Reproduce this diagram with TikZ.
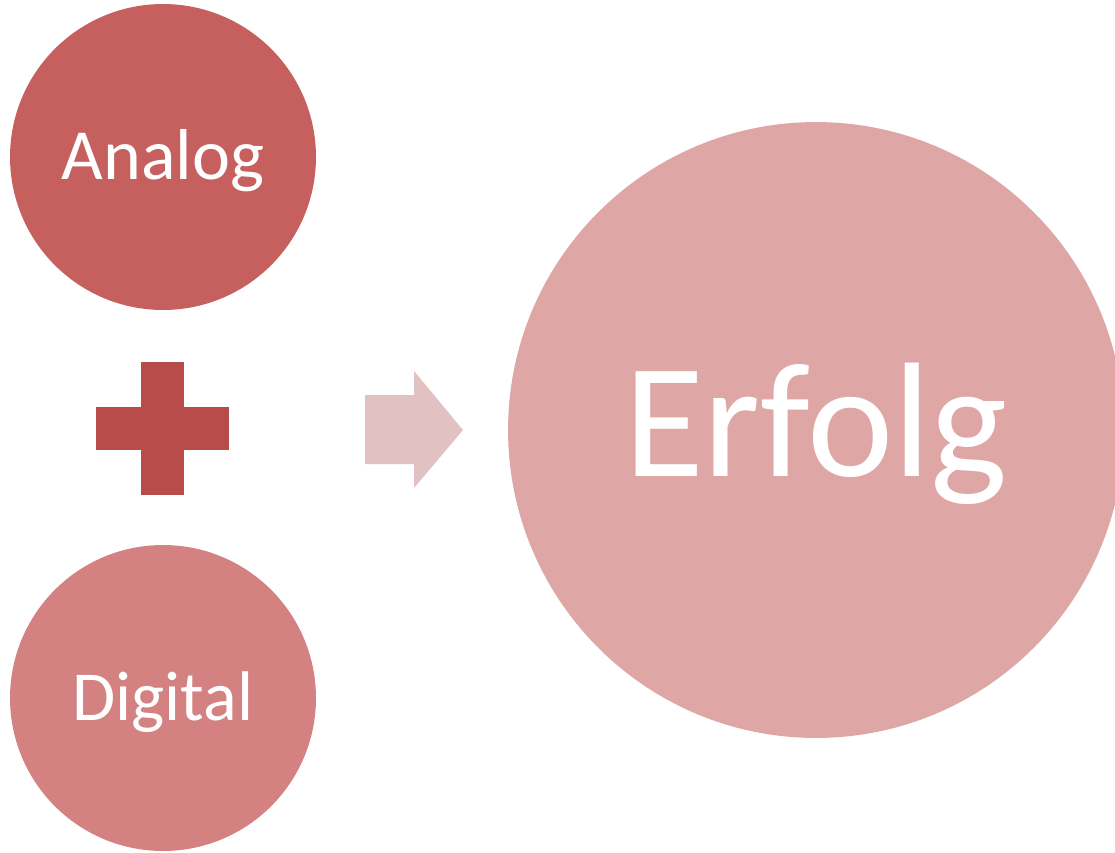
\documentclass[tikz,border=0pt]{standalone}
\usepackage{fontspec}
\setmainfont{Carlito}
\definecolor{analogred}{HTML}{C5605E}
\definecolor{digitalred}{HTML}{D38181}
\definecolor{erfolgred}{HTML}{DFA6A6}
\definecolor{plusred}{HTML}{B84C4A}
\definecolor{arrowred}{HTML}{E2C1C3}
\tikzset{bubble/.style={circle,inner sep=0pt,text=white}}
\newcommand{\lowered}[1]{\raisebox{-2.3pt}[\height][\depth]{#1}}
\begin{document}
\begin{tikzpicture}[x=0.02cm,y=-0.02cm]
   \useasboundingbox (0,0) rectangle (1115,852);
   \node[bubble,fill=analogred,minimum size=6.12cm,font=\fontsize{41}{41}\selectfont] (analog) at (163,157) {\lowered{Analog}};
   \node[bubble,fill=digitalred,minimum size=6.12cm,font=\fontsize{40}{40}\selectfont] (digital) at (163,698) {\lowered{Digital}};
   \node[bubble,fill=erfolgred,minimum size=12.32cm,font=\fontsize{93}{93}\selectfont] (erfolg) at (816,430) {\lowered{Erfolg}};
   % plus
   \fill[plusred] (141,362) rectangle (184,495);
   \fill[plusred] (96,407) rectangle (229,450);
   % arrow
   \fill[arrowred] (365,395) -- (414,395) -- (414,371) -- (463,430) -- (414,488) -- (414,464) -- (365,464) -- cycle;
\end{tikzpicture}
\end{document}
